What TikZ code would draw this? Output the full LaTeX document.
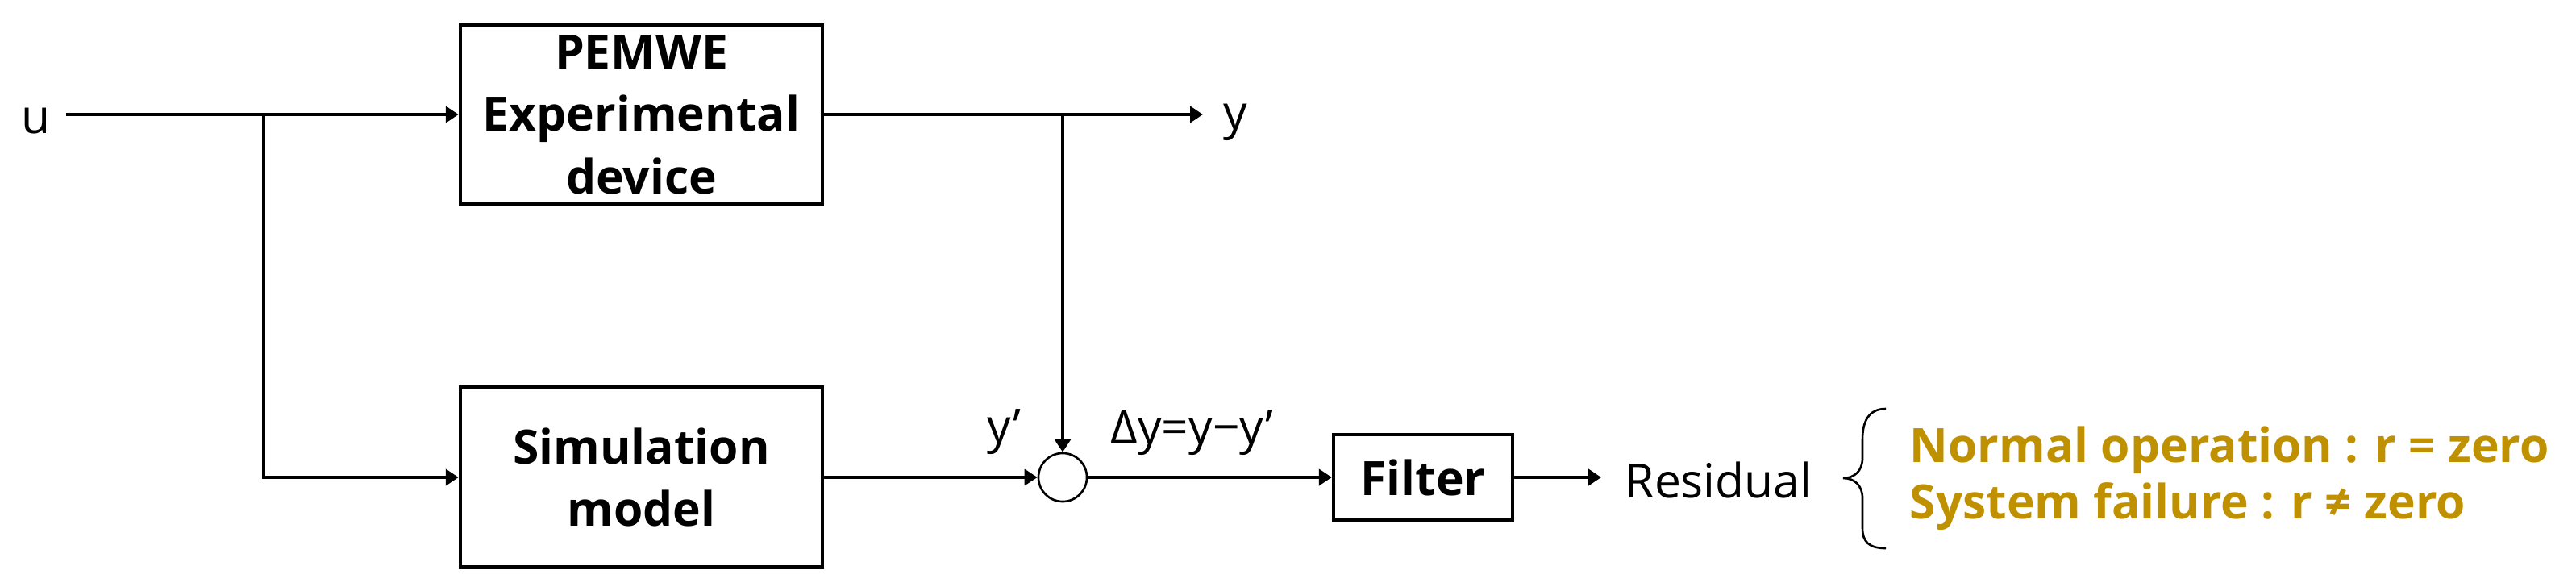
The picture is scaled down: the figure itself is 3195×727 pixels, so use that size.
\documentclass[tikz,border=0pt]{standalone}
\usepackage{fontspec}
\setmainfont{Open Sans}
\usetikzlibrary{arrows.meta}
\definecolor{gold}{RGB}{191,144,0}
\begin{document}
\begin{tikzpicture}[x=0.01cm,y=-0.01cm,
  font=\fontsize{16.7pt}{20.5pt}\selectfont,
  blk/.style={draw,line width=1.2pt,align=center,inner sep=0pt,font=\fontsize{16.7pt}{22pt}\selectfont\bfseries},
  conn/.style={line width=1.2pt,-{Triangle[length=0.16cm,width=0.2cm]}},
  thinconn/.style={line width=0.95pt,-{Triangle[length=0.16cm,width=0.2cm]}},
  lbl/.style={anchor=base west,inner sep=0pt},
  goldtxt/.style={lbl,text=gold,font=\fontsize{16.7pt}{20.5pt}\selectfont\bfseries}]
\useasboundingbox (0,0) rectangle (3195,727);
% blocks
\node[blk,minimum width=4.49cm,minimum height=2.21cm] (pem) at (795.5,142) {PEMWE\\Experimental\\device};
\node[blk,minimum width=4.49cm,minimum height=2.23cm] (sim) at (795.5,592) {Simulation\\model};
\node[blk,minimum width=2.22cm,minimum height=1.06cm] (filt) at (1765,592) {Filter};
\node[draw,circle,line width=0.75pt,minimum size=0.6cm,inner sep=0pt] (sum) at (1318,592) {};
% coordinates
\coordinate (in) at (82,142);
\coordinate (br1) at (327,142);
\coordinate (br2) at (1318,142);
\coordinate (yend) at (1492,142);
\coordinate (rend) at (1986,592);
% connectors
\draw[conn] (in) -- (pem.west);
\draw[conn] (br1) |- (sim.west);
\draw[conn] (pem.east) -- (yend);
\draw[thinconn] (br2) -- (sum.north);
\draw[thinconn] (sim.east) -- (sum.west);
\draw[conn] (sum.east) -- (filt.west);
\draw[conn] (filt.east) -- (rend);
% labels
\node[lbl] (u) at (26,165) {u};
\node[lbl] (y) at (1517,160) {y};
\node[lbl] (yp) at (1224,549) {y'};
\node[lbl] (dy) at (1377,550) {Δy=y−y'};
\node[lbl] (res) at (2015,617) {Residual};
\node[goldtxt] (normal) at (2368,573) {Normal operation : r = zero};
\node[goldtxt] (fail) at (2368,643) {System failure : r ≠ zero};
% brace
\draw[line width=0.75pt] (2339,507) .. controls (2318,507) and (2310,522) .. (2310,545)
  -- (2310,568) .. controls (2310,584) and (2300,593) .. (2286,593)
  .. controls (2300,593) and (2310,602) .. (2310,618)
  -- (2310,655) .. controls (2310,672) and (2318,680) .. (2339,680);
\end{tikzpicture}
\end{document}
